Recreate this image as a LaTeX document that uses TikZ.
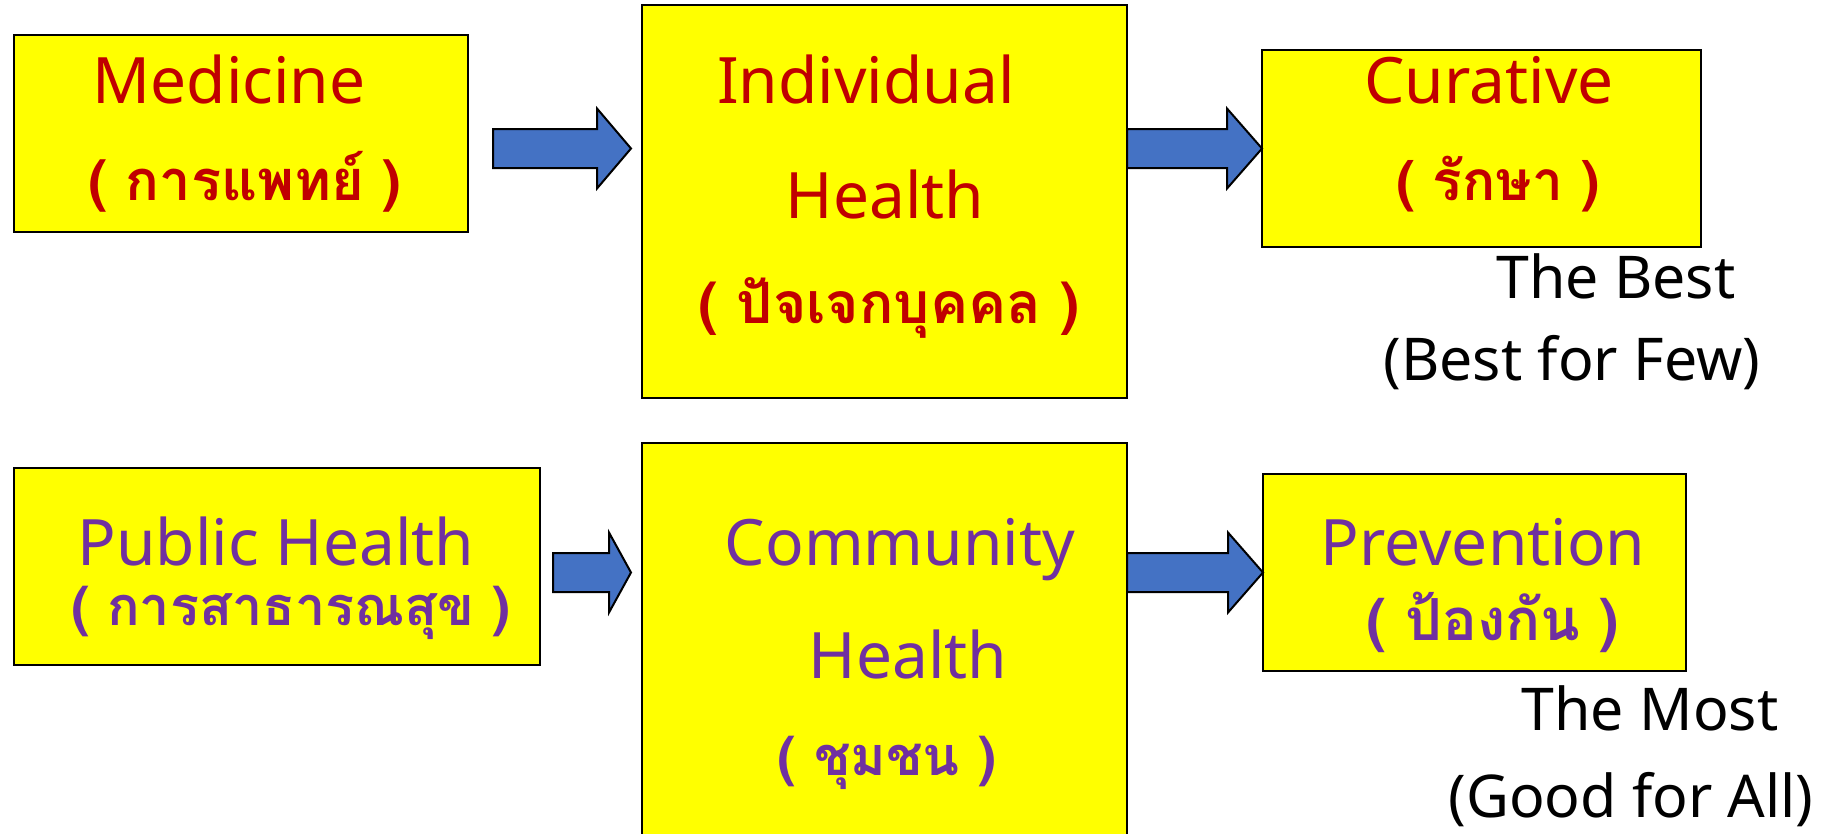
\documentclass[tikz,border=0pt]{standalone}
\usepackage{fontspec}
\setmainfont{Noto Sans}
\newfontfamily\thai[Script=Thai]{Loma}
\usetikzlibrary{calc}
\definecolor{redtxt}{HTML}{C00000}
\definecolor{purtxt}{HTML}{7030A0}
\definecolor{arrowblue}{HTML}{4472C4}
\definecolor{boxyellow}{HTML}{FFFF00}
\tikzset{
  box/.style={draw=black, fill=boxyellow, line width=2.5pt, inner sep=0pt, outer sep=0pt},
  bigred/.style={anchor=base, text=redtxt, font=\fontsize{64}{70}\selectfont, inner sep=0pt},
  bigpur/.style={anchor=base, text=purtxt, font=\fontsize{64}{70}\selectfont, inner sep=0pt},
  th/.style={anchor=base, font=\thai\bfseries\fontsize{#1}{#1}\selectfont, inner sep=0pt},
  note/.style={anchor=base, text=black, font=\fontsize{59}{64}\selectfont, inner sep=0pt},
  blockarrow/.style={draw=black, fill=arrowblue, line width=2pt, line join=miter}
}
% #1 start coordinate, #2 tip coordinate, #3 head length
\newcommand\blkarrow[3]{%
  \path let \p1=(#1), \p2=(#2) in
    [blockarrow] (\x1,\y1+19.5pt) -- (\x2-#3,\y1+19.5pt) -- (\x2-#3,\y1+40pt) -- (\x2,\y1)
    -- (\x2-#3,\y1-40pt) -- (\x2-#3,\y1-19.5pt) -- (\x1,\y1-19.5pt) -- cycle;}
\begin{document}
\begin{tikzpicture}[x=1pt,y=-1pt]
\clip (0,0) rectangle (1834,833);
\fill[white] (0,0) rectangle (1834,833);
% boxes
\node[box, minimum width=454pt, minimum height=197pt] (med) at (241,133.5) {};
\node[box, minimum width=485pt, minimum height=393pt] (ind) at (884.5,201.5) {};
\node[box, minimum width=439pt, minimum height=197pt] (cur) at (1481.5,148.5) {};
\node[box, minimum width=526pt, minimum height=197pt] (ph) at (277,566.5) {};
\node[box, minimum width=485pt, minimum height=402pt] (com) at (884.5,644) {};
\node[box, minimum width=423pt, minimum height=197pt] (prev) at (1474.5,572.5) {};
% texts
\node[bigred] (t1) at (229,103) {Medicine};
\node[th=56, text=redtxt] (t2) at (245,200) {( การแพทย์ )};
\node[bigred] (t3) at (866,103) {Individual};
\node[bigred] (t4) at (885,218) {Health};
\node[th=57, text=redtxt] (t5) at (889,323) {( ปัจเจกบุคคล )};
\node[bigred] (t6) at (1489,103) {Curative};
\node[th=55, text=redtxt] (t7) at (1498,200) {( รักษา )};
\node[note] (t8) at (1616,298) {The Best};
\node[note] (t9) at (1572,380) {(Best for Few)};
\node[bigpur] (t10) at (276,565) {Public Health};
\node[th=54, text=purtxt] (t11) at (291,625) {( การสาธารณสุข )};
\node[bigpur] (t12) at (900,565) {Community};
\node[bigpur] (t13) at (908,678) {Health};
\node[th=54, text=purtxt] (t14) at (887,775) {( ชุมชน )};
\node[bigpur] (t15) at (1483,565) {Prevention};
\node[th=58, text=purtxt] (t16) at (1493,640) {( ป้องกัน )};
\node[note] (t17) at (1650,730) {The Most};
\node[note] (t18) at (1631,817) {(Good for All)};
% arrows
\coordinate (a1s) at ($(med.east |- cur.west)+(25,0)$);
\coordinate (a1e) at ($(ind.west |- cur.west)+(-11,0)$);
\blkarrow{a1s}{a1e}{34pt}
\coordinate (a2s) at (ind.east |- cur.west);
\coordinate (a2e) at (cur.west);
\blkarrow{a2s}{a2e}{35pt}
\coordinate (a3s) at ($(ph.east |- prev.west)+(13,0)$);
\coordinate (a3e) at ($(com.west |- prev.west)+(-11,0)$);
\blkarrow{a3s}{a3e}{22pt}
\coordinate (a4s) at (com.east |- prev.west);
\coordinate (a4e) at (prev.west);
\blkarrow{a4s}{a4e}{35pt}
\end{tikzpicture}
\end{document}
